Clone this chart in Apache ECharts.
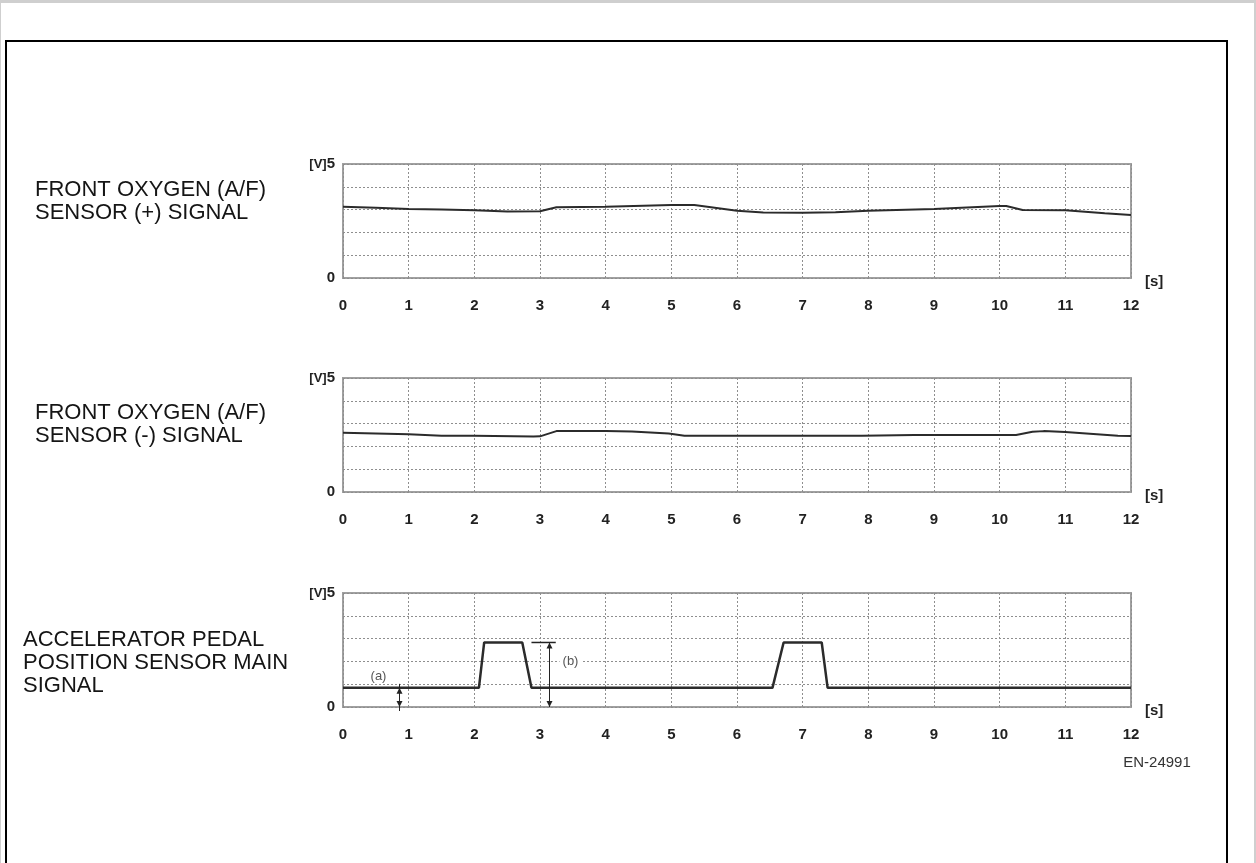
<!DOCTYPE html>
<html>
<head>
<meta charset="utf-8">
<script src="https://cdn.jsdelivr.net/npm/echarts@6/dist/echarts.min.js"></script>
<style>
  html, body { margin: 0; padding: 0; background: #fff; }
  #chart { width: 1256px; height: 863px; }
</style>
</head>
<body>
<div id="chart"></div>
<script>
// Time axis (seconds) and voltage axis ranges
const timeMin = 0;
const timeMax = 12;
const voltMin = 0;
const voltMax = 5;

// Front oxygen (A/F) sensor (+) signal
const plusTimes  = [0, 0.5, 1, 1.5, 2, 2.5, 3, 3.25, 4, 5, 5.35, 6, 6.4, 7, 7.5, 8, 9, 10, 10.1, 10.35, 11, 11.6, 12];
const plusVolts  = [3.13, 3.08, 3.03, 3.0, 2.97, 2.92, 2.93, 3.1, 3.13, 3.2, 3.2, 2.95, 2.87, 2.86, 2.88, 2.95, 3.03, 3.16, 3.16, 2.98, 2.97, 2.84, 2.76];

// Front oxygen (A/F) sensor (-) signal
const minusTimes = [0, 1, 1.5, 2, 2.9, 3.0, 3.25, 4, 4.4, 4.96, 5.2, 6, 7, 7.9, 8.7, 10.25, 10.5, 10.67, 11, 11.8, 12];
const minusVolts = [2.6, 2.53, 2.47, 2.47, 2.43, 2.44, 2.67, 2.68, 2.65, 2.57, 2.47, 2.47, 2.47, 2.47, 2.5, 2.5, 2.64, 2.67, 2.63, 2.47, 2.46];

// Accelerator pedal position sensor main signal
const pedalTimes = [0, 2.07, 2.15, 2.73, 2.87, 6.54, 6.71, 7.29, 7.38, 12];
const pedalVolts = [0.84, 0.84, 2.83, 2.83, 0.84, 0.84, 2.83, 2.83, 0.84, 0.84];

// Dimension marks on the pedal signal: (a) idle level, (b) full level
const dimTimes  = [0.86, 3.14];
const dimLevels = [0.84, 2.83];
const dimLabels = ['(a)', '(b)'];
const leaderTimes = [2.87, 3.24];

// Panel captions
const captions = [
  'FRONT OXYGEN (A/F)\nSENSOR (+) SIGNAL',
  'FRONT OXYGEN (A/F)\nSENSOR (-) SIGNAL',
  'ACCELERATOR PEDAL\nPOSITION SENSOR MAIN\nSIGNAL'
];
const figureId = 'EN-24991';

const pairs = (xs, ys) => xs.map((x, i) => [x, ys[i]]);

const FONT = '"Liberation Sans", Arial, sans-serif';
const gridTops = [164, 378, 593];
const gridLine = { color: '#8e8e8e', type: [2, 2], width: 1 };

const grids = gridTops.map(top => ({
  left: 343, top: top, width: 788, height: 114,
  show: true, borderColor: '#a0a0a0', borderWidth: 2, backgroundColor: 'transparent'
}));

const xAxes = gridTops.map((_, i) => ({
  type: 'value', gridIndex: i, min: timeMin, max: timeMax, interval: 1,
  axisLine: { show: false }, axisTick: { show: false },
  splitLine: { show: true, lineStyle: gridLine },
  axisLabel: { fontFamily: FONT, fontSize: 15, fontWeight: 'bold', color: '#222', margin: 20 },
  name: '[s]', nameLocation: 'end', nameGap: 14,
  nameTextStyle: { fontFamily: FONT, fontSize: 15, fontWeight: 'bold', color: '#222',
                   align: 'left', verticalAlign: 'top', lineHeight: 8 }
}));

const yAxes = gridTops.map((_, i) => ({
  type: 'value', gridIndex: i, min: voltMin, max: voltMax, interval: 1,
  axisLine: { show: false }, axisTick: { show: false },
  splitLine: { show: true, lineStyle: gridLine },
  axisLabel: {
    margin: 8,
    formatter: v => v === voltMax ? '{u|[V]}{n|' + v + '}' : (v === voltMin ? '{n|' + v + '}' : ''),
    rich: {
      u: { fontFamily: FONT, fontSize: 13, fontWeight: 'bold', color: '#222' },
      n: { fontFamily: FONT, fontSize: 15, fontWeight: 'bold', color: '#222' }
    }
  }
}));

const signalLine = { color: '#2b2b2b', width: 2 };

function renderDimension(params, api) {
  const i = params.dataIndex;
  const t = api.value(0);
  const level = api.value(1);
  const top = api.coord([t, level]);
  const bot = api.coord([t, 0]);
  const x = Math.round(top[0]) + 0.5;
  const stroke = { stroke: '#222', lineWidth: 1 };
  const ext = i === 0 ? 4 : 0;
  const children = [
    { type: 'line', shape: { x1: x, y1: top[1] - ext, x2: x, y2: bot[1] + ext }, style: stroke },
    { type: 'polygon', shape: { points: [[x, top[1]], [x - 3, top[1] + 6], [x + 3, top[1] + 6]] }, style: { fill: '#222' } },
    { type: 'polygon', shape: { points: [[x, bot[1]], [x - 3, bot[1] - 6], [x + 3, bot[1] - 6]] }, style: { fill: '#222' } }
  ];
  if (i === 1) {
    const a = api.coord([leaderTimes[0], level]);
    const b = api.coord([leaderTimes[1], level]);
    children.push({ type: 'line', shape: { x1: a[0], y1: a[1], x2: b[0], y2: b[1] }, style: { stroke: '#222', lineWidth: 1.5 } });
    const mid = api.coord([t, 2]);
    children.push({ type: 'text', x: x + 21, y: mid[1],
      style: { text: dimLabels[i], font: '13px ' + FONT, fill: '#555', align: 'center', verticalAlign: 'middle',
               backgroundColor: '#fff', padding: [0, 3] } });
  } else {
    children.push({ type: 'text', x: x - 21, y: top[1] - 11,
      style: { text: dimLabels[i], font: '13px ' + FONT, fill: '#555', align: 'center', verticalAlign: 'middle' } });
  }
  return { type: 'group', children: children };
}

const captionTops = [178, 401, 628];
const captionLefts = [35, 35, 23];

const graphics = [
  { type: 'rect', shape: { x: 0, y: 0, width: 1256, height: 3 }, style: { fill: '#cfcfcf' }, silent: true },
  { type: 'rect', shape: { x: 0, y: 0, width: 1, height: 863 }, style: { fill: '#cfcfcf' }, silent: true },
  { type: 'rect', shape: { x: 1254, y: 0, width: 2, height: 863 }, style: { fill: '#cfcfcf' }, silent: true },
  { type: 'polyline', shape: { points: [[6, 864], [6, 41], [1227, 41], [1227, 864]] },
    style: { stroke: '#000', lineWidth: 2, fill: null }, silent: true },
  { type: 'text', x: 1157, y: 763,
    style: { text: figureId, font: '15px ' + FONT, fill: '#333', align: 'center', verticalAlign: 'middle' } }
].concat(captions.map((c, i) => ({
  type: 'text', x: captionLefts[i], y: captionTops[i],
  style: { text: c, font: '22px ' + FONT, lineHeight: 23, fill: '#151515', align: 'left', verticalAlign: 'top' }
})));

const chart = echarts.init(document.getElementById('chart'), null, { renderer: 'canvas' });
chart.setOption({
  animation: false,
  backgroundColor: '#fff',
  grid: grids,
  xAxis: xAxes,
  yAxis: yAxes,
  graphic: graphics,
  series: [
    { type: 'line', xAxisIndex: 0, yAxisIndex: 0, data: pairs(plusTimes, plusVolts),
      showSymbol: false, lineStyle: signalLine, smooth: false },
    { type: 'line', xAxisIndex: 1, yAxisIndex: 1, data: pairs(minusTimes, minusVolts),
      showSymbol: false, lineStyle: signalLine, smooth: false },
    { type: 'line', xAxisIndex: 2, yAxisIndex: 2, data: pairs(pedalTimes, pedalVolts),
      showSymbol: false, lineStyle: { color: '#2b2b2b', width: 2.5 }, smooth: false },
    { type: 'custom', xAxisIndex: 2, yAxisIndex: 2, clip: false, z: 5,
      data: pairs(dimTimes, dimLevels), renderItem: renderDimension }
  ]
});
</script>
</body>
</html>
